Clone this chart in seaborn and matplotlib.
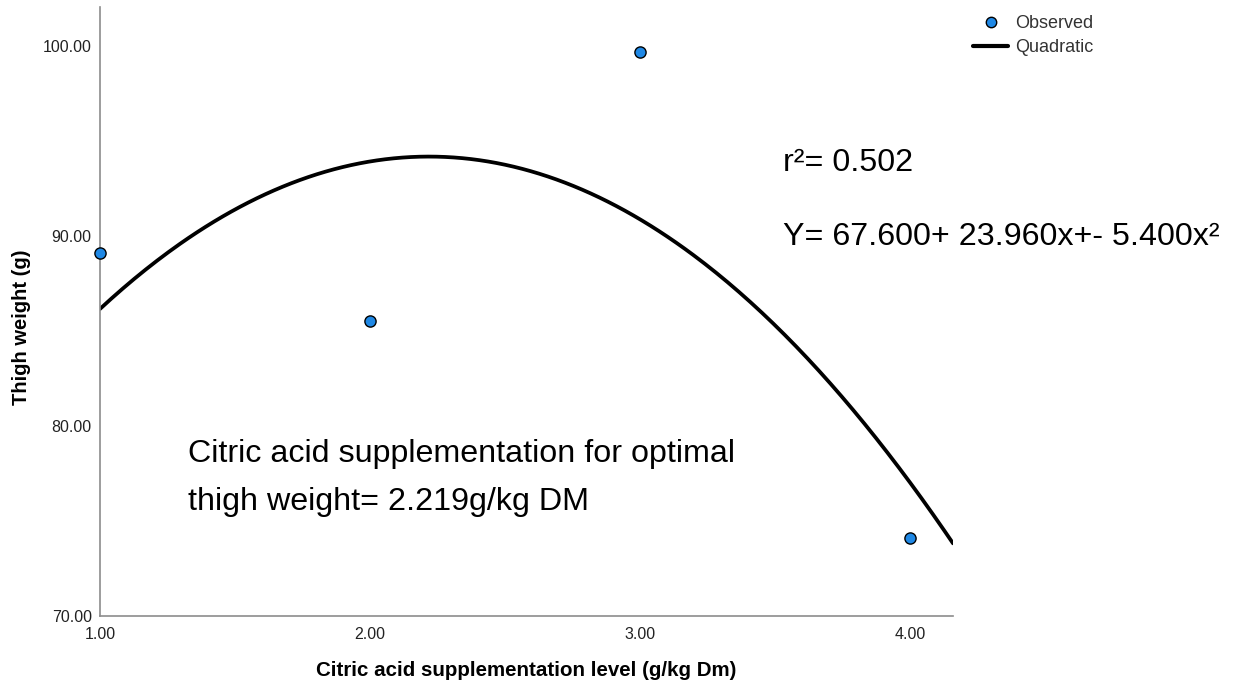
import numpy as np
import pandas as pd
import matplotlib
matplotlib.use("Agg")
import matplotlib.pyplot as plt
import seaborn as sns
from matplotlib.lines import Line2D

# ---- data ----
levels = [1.0, 2.0, 3.0, 4.0]
thigh_weight = [89.1, 85.5, 99.7, 74.1]
quad_coef = [67.600, 23.960, -5.400]   # intercept, linear, quadratic
x_range = [1.0, 4.16]
x_ticks = [1.0, 2.0, 3.0, 4.0]
y_ticks = [70.0, 80.0, 90.0, 100.0]
r_squared = 0.502
optimum = 2.219

sns.set_theme(style="white")
plt.rcParams['font.family'] = ['Liberation Sans', 'DejaVu Sans']

W, H = 1238, 694
fig = plt.figure(figsize=(W / 100, H / 100), dpi=100)
ax = fig.add_axes([100 / W, 1 - 616 / H, (953 - 100) / W, (616 - 7) / H])

obs = pd.DataFrame({"level": levels, "weight": thigh_weight})
xs = np.linspace(x_range[0], x_range[1], 300)
fit = pd.DataFrame({"level": xs,
                    "weight": quad_coef[0] + quad_coef[1] * xs + quad_coef[2] * xs ** 2})

sns.lineplot(data=fit, x="level", y="weight", ax=ax, color="black", lw=2.7, zorder=2)
sns.scatterplot(data=obs, x="level", y="weight", ax=ax, color="#1f88e5",
                edgecolor="black", linewidth=1.0, s=65, zorder=3, clip_on=False)

ax.set_xlim(x_range[0], x_range[1])
ax.set_ylim(70, 102.05)
ax.set_xticks(x_ticks)
ax.set_xticklabels([f"{v:.2f}" for v in x_ticks])
ax.set_yticks(y_ticks)
ax.set_yticklabels([f"{v:.2f}" for v in y_ticks])
ax.tick_params(axis="both", length=0, labelsize=11.5, colors="#222222")
ax.tick_params(axis="x", pad=8)
ax.tick_params(axis="y", pad=6)

for s in ["top", "right"]:
    ax.spines[s].set_visible(False)
for s in ["left", "bottom"]:
    ax.spines[s].set_color("#8c8c8c")
    ax.spines[s].set_linewidth(1.2)

ax.set_xlabel("Citric acid supplementation level (g/kg Dm)", fontsize=14.8,
              fontweight="bold", color="black")
ax.set_ylabel("Thigh weight (g)", fontsize=14.5, fontweight="bold", color="black")
ax.xaxis.set_label_coords(0.5, (616 - 661) / 609)
ax.yaxis.set_label_coords((31 - 100) / 853, (616 - 327) / 609)

# annotations
fs = 23.2
fig.text(783 / W, 1 - 171 / H, f"r\u00b2= {r_squared:.3f}", fontsize=fs,
         va="baseline", ha="left", color="black")
fig.text(783 / W, 1 - 245 / H,
         f"Y= {quad_coef[0]:.3f}+ {quad_coef[1]:.3f}x+- {abs(quad_coef[2]):.3f}x\u00b2",
         fontsize=fs, va="baseline", ha="left", color="black")
fig.text(188 / W, 1 - 462 / H, "Citric acid supplementation for optimal",
         fontsize=fs, va="baseline", ha="left", color="black")
fig.text(188 / W, 1 - 510 / H, f"thigh weight= {optimum:.3f}g/kg DM",
         fontsize=fs, va="baseline", ha="left", color="black")

# legend
handles = [
    Line2D([], [], marker="o", linestyle="none", markerfacecolor="#1f88e5",
           markeredgecolor="black", markersize=7.5, label="Observed"),
    Line2D([], [], color="black", lw=3, label="Quadratic"),
]
leg = fig.legend(handles=handles, loc="upper left",
                 bbox_to_anchor=(973 / W, 1 - 15 / H), frameon=False,
                 fontsize=13, handlelength=1.95, handletextpad=0.4,
                 labelspacing=0.4, borderaxespad=0, borderpad=0)
for t in leg.get_texts():
    t.set_color("#333333")

fig.savefig("out.png", dpi=100)
